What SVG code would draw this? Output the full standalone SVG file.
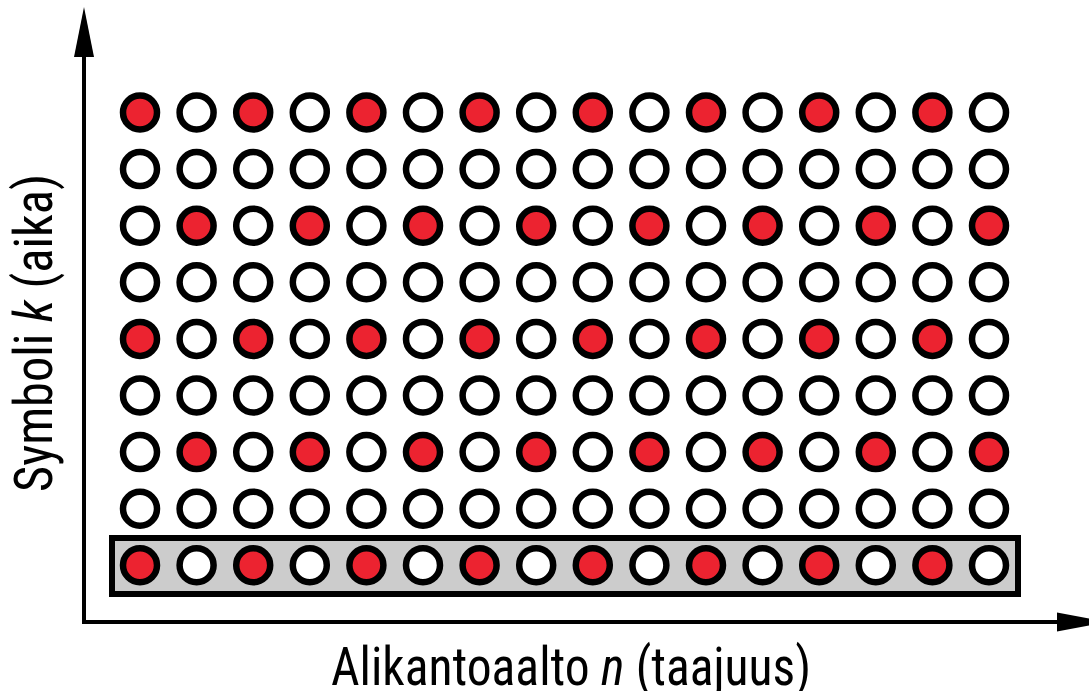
<svg xmlns="http://www.w3.org/2000/svg" width="1089" height="691" viewBox="0 0 1089 691">
  <style>
    .c { stroke: #000; stroke-width: 6.5; }
    .r { fill: #ec2330; }
    .w { fill: #fff; }
    .ax { stroke: #000; stroke-width: 4; fill: none; }
    .lbl { font-family: "Roboto Condensed", Roboto, "Liberation Sans", sans-serif; font-size: 53px; fill: #000; }
  </style>
  <rect width="1089" height="691" fill="#fff"/>

  <!-- highlighted symbol row -->
  <g id="highlight">
    <rect x="112" y="538" width="906" height="56" fill="#cccccc" stroke="#000" stroke-width="6"/>
  </g>

  <!-- axes -->
  <g id="connectors">
    <line class="ax" x1="84" y1="624" x2="84" y2="55"/>
    <polygon points="84,7 74,57 94,57" fill="#000"/>
    <line class="ax" x1="82" y1="622" x2="1059" y2="622"/>
    <polygon points="1107,622 1057,612.5 1057,631.5" fill="#000"/>
  </g>

  <!-- resource elements: row j (time), column i (subcarrier) -->
  <g id="row0">
    <g id="n0-0"><circle class="c r" cx="140" cy="112.5" r="17"/></g>
    <g id="n0-1"><circle class="c w" cx="196.6" cy="112.5" r="17"/></g>
    <g id="n0-2"><circle class="c r" cx="253.2" cy="112.5" r="17"/></g>
    <g id="n0-3"><circle class="c w" cx="309.8" cy="112.5" r="17"/></g>
    <g id="n0-4"><circle class="c r" cx="366.4" cy="112.5" r="17"/></g>
    <g id="n0-5"><circle class="c w" cx="423" cy="112.5" r="17"/></g>
    <g id="n0-6"><circle class="c r" cx="479.6" cy="112.5" r="17"/></g>
    <g id="n0-7"><circle class="c w" cx="536.2" cy="112.5" r="17"/></g>
    <g id="n0-8"><circle class="c r" cx="592.8" cy="112.5" r="17"/></g>
    <g id="n0-9"><circle class="c w" cx="649.4" cy="112.5" r="17"/></g>
    <g id="n0-10"><circle class="c r" cx="706" cy="112.5" r="17"/></g>
    <g id="n0-11"><circle class="c w" cx="762.6" cy="112.5" r="17"/></g>
    <g id="n0-12"><circle class="c r" cx="819.2" cy="112.5" r="17"/></g>
    <g id="n0-13"><circle class="c w" cx="875.8" cy="112.5" r="17"/></g>
    <g id="n0-14"><circle class="c r" cx="932.4" cy="112.5" r="17"/></g>
    <g id="n0-15"><circle class="c w" cx="989" cy="112.5" r="17"/></g>
  </g>
  <g id="row1">
    <g id="n1-0"><circle class="c w" cx="140" cy="169.1" r="17"/></g>
    <g id="n1-1"><circle class="c w" cx="196.6" cy="169.1" r="17"/></g>
    <g id="n1-2"><circle class="c w" cx="253.2" cy="169.1" r="17"/></g>
    <g id="n1-3"><circle class="c w" cx="309.8" cy="169.1" r="17"/></g>
    <g id="n1-4"><circle class="c w" cx="366.4" cy="169.1" r="17"/></g>
    <g id="n1-5"><circle class="c w" cx="423" cy="169.1" r="17"/></g>
    <g id="n1-6"><circle class="c w" cx="479.6" cy="169.1" r="17"/></g>
    <g id="n1-7"><circle class="c w" cx="536.2" cy="169.1" r="17"/></g>
    <g id="n1-8"><circle class="c w" cx="592.8" cy="169.1" r="17"/></g>
    <g id="n1-9"><circle class="c w" cx="649.4" cy="169.1" r="17"/></g>
    <g id="n1-10"><circle class="c w" cx="706" cy="169.1" r="17"/></g>
    <g id="n1-11"><circle class="c w" cx="762.6" cy="169.1" r="17"/></g>
    <g id="n1-12"><circle class="c w" cx="819.2" cy="169.1" r="17"/></g>
    <g id="n1-13"><circle class="c w" cx="875.8" cy="169.1" r="17"/></g>
    <g id="n1-14"><circle class="c w" cx="932.4" cy="169.1" r="17"/></g>
    <g id="n1-15"><circle class="c w" cx="989" cy="169.1" r="17"/></g>
  </g>
  <g id="row2">
    <g id="n2-0"><circle class="c w" cx="140" cy="225.7" r="17"/></g>
    <g id="n2-1"><circle class="c r" cx="196.6" cy="225.7" r="17"/></g>
    <g id="n2-2"><circle class="c w" cx="253.2" cy="225.7" r="17"/></g>
    <g id="n2-3"><circle class="c r" cx="309.8" cy="225.7" r="17"/></g>
    <g id="n2-4"><circle class="c w" cx="366.4" cy="225.7" r="17"/></g>
    <g id="n2-5"><circle class="c r" cx="423" cy="225.7" r="17"/></g>
    <g id="n2-6"><circle class="c w" cx="479.6" cy="225.7" r="17"/></g>
    <g id="n2-7"><circle class="c r" cx="536.2" cy="225.7" r="17"/></g>
    <g id="n2-8"><circle class="c w" cx="592.8" cy="225.7" r="17"/></g>
    <g id="n2-9"><circle class="c r" cx="649.4" cy="225.7" r="17"/></g>
    <g id="n2-10"><circle class="c w" cx="706" cy="225.7" r="17"/></g>
    <g id="n2-11"><circle class="c r" cx="762.6" cy="225.7" r="17"/></g>
    <g id="n2-12"><circle class="c w" cx="819.2" cy="225.7" r="17"/></g>
    <g id="n2-13"><circle class="c r" cx="875.8" cy="225.7" r="17"/></g>
    <g id="n2-14"><circle class="c w" cx="932.4" cy="225.7" r="17"/></g>
    <g id="n2-15"><circle class="c r" cx="989" cy="225.7" r="17"/></g>
  </g>
  <g id="row3">
    <g id="n3-0"><circle class="c w" cx="140" cy="282.3" r="17"/></g>
    <g id="n3-1"><circle class="c w" cx="196.6" cy="282.3" r="17"/></g>
    <g id="n3-2"><circle class="c w" cx="253.2" cy="282.3" r="17"/></g>
    <g id="n3-3"><circle class="c w" cx="309.8" cy="282.3" r="17"/></g>
    <g id="n3-4"><circle class="c w" cx="366.4" cy="282.3" r="17"/></g>
    <g id="n3-5"><circle class="c w" cx="423" cy="282.3" r="17"/></g>
    <g id="n3-6"><circle class="c w" cx="479.6" cy="282.3" r="17"/></g>
    <g id="n3-7"><circle class="c w" cx="536.2" cy="282.3" r="17"/></g>
    <g id="n3-8"><circle class="c w" cx="592.8" cy="282.3" r="17"/></g>
    <g id="n3-9"><circle class="c w" cx="649.4" cy="282.3" r="17"/></g>
    <g id="n3-10"><circle class="c w" cx="706" cy="282.3" r="17"/></g>
    <g id="n3-11"><circle class="c w" cx="762.6" cy="282.3" r="17"/></g>
    <g id="n3-12"><circle class="c w" cx="819.2" cy="282.3" r="17"/></g>
    <g id="n3-13"><circle class="c w" cx="875.8" cy="282.3" r="17"/></g>
    <g id="n3-14"><circle class="c w" cx="932.4" cy="282.3" r="17"/></g>
    <g id="n3-15"><circle class="c w" cx="989" cy="282.3" r="17"/></g>
  </g>
  <g id="row4">
    <g id="n4-0"><circle class="c r" cx="140" cy="338.9" r="17"/></g>
    <g id="n4-1"><circle class="c w" cx="196.6" cy="338.9" r="17"/></g>
    <g id="n4-2"><circle class="c r" cx="253.2" cy="338.9" r="17"/></g>
    <g id="n4-3"><circle class="c w" cx="309.8" cy="338.9" r="17"/></g>
    <g id="n4-4"><circle class="c r" cx="366.4" cy="338.9" r="17"/></g>
    <g id="n4-5"><circle class="c w" cx="423" cy="338.9" r="17"/></g>
    <g id="n4-6"><circle class="c r" cx="479.6" cy="338.9" r="17"/></g>
    <g id="n4-7"><circle class="c w" cx="536.2" cy="338.9" r="17"/></g>
    <g id="n4-8"><circle class="c r" cx="592.8" cy="338.9" r="17"/></g>
    <g id="n4-9"><circle class="c w" cx="649.4" cy="338.9" r="17"/></g>
    <g id="n4-10"><circle class="c r" cx="706" cy="338.9" r="17"/></g>
    <g id="n4-11"><circle class="c w" cx="762.6" cy="338.9" r="17"/></g>
    <g id="n4-12"><circle class="c r" cx="819.2" cy="338.9" r="17"/></g>
    <g id="n4-13"><circle class="c w" cx="875.8" cy="338.9" r="17"/></g>
    <g id="n4-14"><circle class="c r" cx="932.4" cy="338.9" r="17"/></g>
    <g id="n4-15"><circle class="c w" cx="989" cy="338.9" r="17"/></g>
  </g>
  <g id="row5">
    <g id="n5-0"><circle class="c w" cx="140" cy="395.5" r="17"/></g>
    <g id="n5-1"><circle class="c w" cx="196.6" cy="395.5" r="17"/></g>
    <g id="n5-2"><circle class="c w" cx="253.2" cy="395.5" r="17"/></g>
    <g id="n5-3"><circle class="c w" cx="309.8" cy="395.5" r="17"/></g>
    <g id="n5-4"><circle class="c w" cx="366.4" cy="395.5" r="17"/></g>
    <g id="n5-5"><circle class="c w" cx="423" cy="395.5" r="17"/></g>
    <g id="n5-6"><circle class="c w" cx="479.6" cy="395.5" r="17"/></g>
    <g id="n5-7"><circle class="c w" cx="536.2" cy="395.5" r="17"/></g>
    <g id="n5-8"><circle class="c w" cx="592.8" cy="395.5" r="17"/></g>
    <g id="n5-9"><circle class="c w" cx="649.4" cy="395.5" r="17"/></g>
    <g id="n5-10"><circle class="c w" cx="706" cy="395.5" r="17"/></g>
    <g id="n5-11"><circle class="c w" cx="762.6" cy="395.5" r="17"/></g>
    <g id="n5-12"><circle class="c w" cx="819.2" cy="395.5" r="17"/></g>
    <g id="n5-13"><circle class="c w" cx="875.8" cy="395.5" r="17"/></g>
    <g id="n5-14"><circle class="c w" cx="932.4" cy="395.5" r="17"/></g>
    <g id="n5-15"><circle class="c w" cx="989" cy="395.5" r="17"/></g>
  </g>
  <g id="row6">
    <g id="n6-0"><circle class="c w" cx="140" cy="452.1" r="17"/></g>
    <g id="n6-1"><circle class="c r" cx="196.6" cy="452.1" r="17"/></g>
    <g id="n6-2"><circle class="c w" cx="253.2" cy="452.1" r="17"/></g>
    <g id="n6-3"><circle class="c r" cx="309.8" cy="452.1" r="17"/></g>
    <g id="n6-4"><circle class="c w" cx="366.4" cy="452.1" r="17"/></g>
    <g id="n6-5"><circle class="c r" cx="423" cy="452.1" r="17"/></g>
    <g id="n6-6"><circle class="c w" cx="479.6" cy="452.1" r="17"/></g>
    <g id="n6-7"><circle class="c r" cx="536.2" cy="452.1" r="17"/></g>
    <g id="n6-8"><circle class="c w" cx="592.8" cy="452.1" r="17"/></g>
    <g id="n6-9"><circle class="c r" cx="649.4" cy="452.1" r="17"/></g>
    <g id="n6-10"><circle class="c w" cx="706" cy="452.1" r="17"/></g>
    <g id="n6-11"><circle class="c r" cx="762.6" cy="452.1" r="17"/></g>
    <g id="n6-12"><circle class="c w" cx="819.2" cy="452.1" r="17"/></g>
    <g id="n6-13"><circle class="c r" cx="875.8" cy="452.1" r="17"/></g>
    <g id="n6-14"><circle class="c w" cx="932.4" cy="452.1" r="17"/></g>
    <g id="n6-15"><circle class="c r" cx="989" cy="452.1" r="17"/></g>
  </g>
  <g id="row7">
    <g id="n7-0"><circle class="c w" cx="140" cy="508.7" r="17"/></g>
    <g id="n7-1"><circle class="c w" cx="196.6" cy="508.7" r="17"/></g>
    <g id="n7-2"><circle class="c w" cx="253.2" cy="508.7" r="17"/></g>
    <g id="n7-3"><circle class="c w" cx="309.8" cy="508.7" r="17"/></g>
    <g id="n7-4"><circle class="c w" cx="366.4" cy="508.7" r="17"/></g>
    <g id="n7-5"><circle class="c w" cx="423" cy="508.7" r="17"/></g>
    <g id="n7-6"><circle class="c w" cx="479.6" cy="508.7" r="17"/></g>
    <g id="n7-7"><circle class="c w" cx="536.2" cy="508.7" r="17"/></g>
    <g id="n7-8"><circle class="c w" cx="592.8" cy="508.7" r="17"/></g>
    <g id="n7-9"><circle class="c w" cx="649.4" cy="508.7" r="17"/></g>
    <g id="n7-10"><circle class="c w" cx="706" cy="508.7" r="17"/></g>
    <g id="n7-11"><circle class="c w" cx="762.6" cy="508.7" r="17"/></g>
    <g id="n7-12"><circle class="c w" cx="819.2" cy="508.7" r="17"/></g>
    <g id="n7-13"><circle class="c w" cx="875.8" cy="508.7" r="17"/></g>
    <g id="n7-14"><circle class="c w" cx="932.4" cy="508.7" r="17"/></g>
    <g id="n7-15"><circle class="c w" cx="989" cy="508.7" r="17"/></g>
  </g>
  <g id="row8">
    <g id="n8-0"><circle class="c r" cx="140" cy="565.3" r="17"/></g>
    <g id="n8-1"><circle class="c w" cx="196.6" cy="565.3" r="17"/></g>
    <g id="n8-2"><circle class="c r" cx="253.2" cy="565.3" r="17"/></g>
    <g id="n8-3"><circle class="c w" cx="309.8" cy="565.3" r="17"/></g>
    <g id="n8-4"><circle class="c r" cx="366.4" cy="565.3" r="17"/></g>
    <g id="n8-5"><circle class="c w" cx="423" cy="565.3" r="17"/></g>
    <g id="n8-6"><circle class="c r" cx="479.6" cy="565.3" r="17"/></g>
    <g id="n8-7"><circle class="c w" cx="536.2" cy="565.3" r="17"/></g>
    <g id="n8-8"><circle class="c r" cx="592.8" cy="565.3" r="17"/></g>
    <g id="n8-9"><circle class="c w" cx="649.4" cy="565.3" r="17"/></g>
    <g id="n8-10"><circle class="c r" cx="706" cy="565.3" r="17"/></g>
    <g id="n8-11"><circle class="c w" cx="762.6" cy="565.3" r="17"/></g>
    <g id="n8-12"><circle class="c r" cx="819.2" cy="565.3" r="17"/></g>
    <g id="n8-13"><circle class="c w" cx="875.8" cy="565.3" r="17"/></g>
    <g id="n8-14"><circle class="c r" cx="932.4" cy="565.3" r="17"/></g>
    <g id="n8-15"><circle class="c w" cx="989" cy="565.3" r="17"/></g>
  </g>

  <!-- axis labels -->
  <g id="label-x">
    <text class="lbl" x="331" y="685" textLength="480" lengthAdjust="spacingAndGlyphs">Alikantoaalto <tspan font-style="italic">n</tspan> (taajuus)</text>
  </g>
  <g id="label-y">
    <text class="lbl" transform="translate(52,492) rotate(-90)" x="0" y="0" textLength="318" lengthAdjust="spacingAndGlyphs">Symboli <tspan font-style="italic">k</tspan> (aika)</text>
  </g>
</svg>
